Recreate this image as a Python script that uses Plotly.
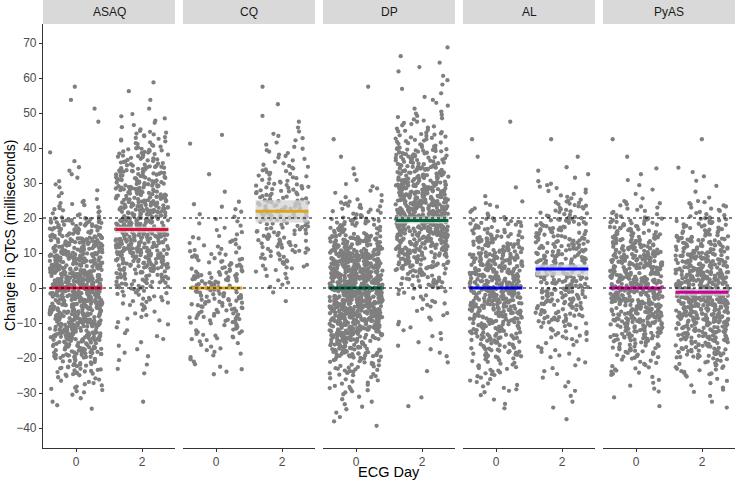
import math
import plotly.graph_objects as go

# ---------------- data ----------------
drugs = ["ASAQ", "CQ", "DP", "AL", "PyAS"]
days = [0, 2]
tick_vals_y = [-40, -30, -20, -10, 0, 10, 20, 30, 40, 50, 60, 70]

# lower edge of each 5-ms bin of "Change in QTcS"
bin_lo = [-40, -35, -30, -25, -20, -15, -10, -5, 0, 5, 10, 15, 20, 25, 30, 35, 40, 45, 50, 55, 60, 65]

# number of patients in each bin, per drug and ECG day
asaq_day0 = [0, 5, 15, 33, 62, 88, 100, 112, 112, 100, 85, 55, 17, 6, 5, 2, 0, 1, 2, 1, 0, 0]
asaq_day2 = [0, 1, 0, 4, 5, 6, 10, 22, 45, 68, 80, 80, 75, 62, 50, 33, 20, 8, 2, 2, 0, 0]
cq_day0 = [0, 0, 0, 7, 10, 20, 30, 35, 35, 25, 15, 8, 7, 1, 1, 0, 2, 0, 0, 0, 0, 0]
cq_day2 = [0, 0, 0, 0, 0, 0, 0, 2, 8, 20, 28, 30, 35, 30, 20, 12, 8, 3, 1, 1, 0, 0]
dp_day0 = [4, 7, 16, 30, 62, 95, 130, 150, 150, 130, 85, 40, 22, 8, 3, 1, 1, 0, 0, 1, 0, 0]
dp_day2 = [0, 2, 0, 2, 5, 6, 8, 13, 33, 58, 85, 102, 108, 92, 68, 50, 27, 15, 6, 4, 4, 2]
al_day0 = [0, 4, 12, 20, 35, 50, 70, 80, 80, 70, 50, 30, 10, 2, 0, 1, 1, 1, 0, 0, 0, 0]
al_day2 = [1, 3, 4, 6, 10, 20, 35, 45, 50, 50, 45, 35, 25, 12, 5, 1, 1, 0, 0, 0, 0, 0]
pyas_day0 = [0, 2, 6, 16, 33, 56, 78, 88, 88, 78, 60, 38, 16, 4, 3, 1, 1, 0, 0, 0, 0, 0]
pyas_day2 = [0, 3, 8, 22, 44, 66, 88, 98, 92, 76, 54, 32, 16, 3, 4, 0, 1, 0, 0, 0, 0, 0]

# summary: median and its confidence band, per drug
median_day0 = [0, 0, 0, 0, 0]
median_day2 = [16.7, 21.9, 19.3, 5.4, -1.2]
ci_lo_day2 = [15.8, 18.7, 18.4, 3.5, -2.2]
ci_hi_day2 = [17.6, 25.1, 20.4, 6.7, -0.3]
ref_lines = [0, 20]

counts = {
    "ASAQ": [asaq_day0, asaq_day2],
    "CQ": [cq_day0, cq_day2],
    "DP": [dp_day0, dp_day2],
    "AL": [al_day0, al_day2],
    "PyAS": [pyas_day0, pyas_day2],
}

# ---------------- styling ----------------
line_colors = ["#DC143C", "#DAA520", "#00693E", "#0000FF", "#CC0099"]
point_color = "#7F7F7F"
font_family = "Liberation Sans, Arial, sans-serif"
W, H = 735, 485
ML, MR, MT, MB = 43, 0, 24, 37
PW = W - ML - MR
PH = H - MT - MB
panel_w = 132
gap = 8
JIT = 0.8


def hash01(n):
    # deterministic horizontal jitter (like geom_jitter), not data
    s = math.sin(n * 12.9898 + 78.233) * 43758.5453
    return s - math.floor(s)


def expand(seed, day, cnts):
    xs, ys = [], []
    g = 0
    for lo, c in zip(bin_lo, cnts):
        for k in range(c):
            xs.append(day + JIT * (2 * hash01(seed * 10007 + g) - 1))
            ys.append(lo + 5 * (k + 0.5) / c)
            g += 1
    return xs, ys


fig = go.Figure()
shapes = []
annotations = []
layout_axes = {}

for i, drug in enumerate(drugs):
    xname = "x" if i == 0 else f"x{i + 1}"
    xkey = "xaxis" if i == 0 else f"xaxis{i + 1}"
    d0 = (i * (panel_w + gap)) / PW
    d1 = (i * (panel_w + gap) + panel_w) / PW
    layout_axes[xkey] = dict(
        domain=[d0, d1], range=[-1, 3], anchor="y",
        tickvals=days, ticktext=[str(d) for d in days],
        showline=True, linecolor="#333333", linewidth=1.1,
        ticks="outside", ticklen=3, tickcolor="#333333",
        showgrid=False, zeroline=False,
        tickfont=dict(size=12, color="#4D4D4D", family=font_family),
        fixedrange=True,
    )
    for j, day in enumerate(days):
        xs, ys = expand(i * 2 + j + 1, day, counts[drug][j])
        fig.add_trace(go.Scatter(
            x=xs, y=ys, xaxis=xname, yaxis="y", mode="markers",
            marker=dict(size=4.3, color=point_color, line=dict(width=0)),
            showlegend=False, hoverinfo="skip",
        ))
    # confidence band (day 2)
    shapes.append(dict(type="rect", xref=xname, yref="y",
                       x0=days[1] - JIT, x1=days[1] + JIT,
                       y0=ci_lo_day2[i], y1=ci_hi_day2[i],
                       fillcolor="rgba(211,211,211,0.75)", line=dict(width=0), layer="above"))
    # medians
    for day, med in zip(days, [median_day0[i], median_day2[i]]):
        shapes.append(dict(type="line", xref=xname, yref="y",
                           x0=day - JIT, x1=day + JIT, y0=med, y1=med,
                           line=dict(color=line_colors[i], width=3), layer="above"))
    # dotted reference lines
    for r in ref_lines:
        shapes.append(dict(type="line", xref=f"{xname} domain", yref="y",
                           x0=0, x1=1, y0=r, y1=r,
                           line=dict(color="black", width=1, dash="dot"), layer="above"))
    # strip
    shapes.append(dict(type="rect", xref=f"{xname} domain", yref="paper",
                       x0=0, x1=1, y0=1, y1=1 + MT / PH,
                       fillcolor="#D9D9D9", line=dict(width=0), layer="above"))
    annotations.append(dict(text=drug, xref=f"{xname} domain", yref="paper",
                            x=0.5, y=1 + (MT / 2) / PH, showarrow=False,
                            xanchor="center", yanchor="middle",
                            font=dict(size=12, color="#1A1A1A", family=font_family)))

annotations.append(dict(text="ECG Day", xref="paper", yref="paper",
                        x=(389 - ML) / PW, y=-(472 - (MT + PH)) / PH,
                        showarrow=False, xanchor="center", yanchor="middle",
                        font=dict(size=14.5, color="black", family=font_family)))
annotations.append(dict(text="Change in QTcS (milliseconds)", xref="paper", yref="paper",
                        x=-(ML - 10) / PW, y=(PH - (236 - MT)) / PH, textangle=-90,
                        showarrow=False, xanchor="center", yanchor="middle",
                        font=dict(size=14, color="black", family=font_family)))

top_val = (288 - MT) / 3.5
bot_val = -(MT + PH - 288) / 3.5

fig.update_layout(
    width=W, height=H,
    margin=dict(l=ML, r=MR, t=MT, b=MB),
    paper_bgcolor="white", plot_bgcolor="white",
    showlegend=False,
    shapes=shapes, annotations=annotations,
    yaxis=dict(range=[bot_val, top_val], tickvals=tick_vals_y,
               showline=True, linecolor="#333333", linewidth=1.1,
               ticks="outside", ticklen=3, tickcolor="#333333",
               showgrid=False, zeroline=False, anchor="x",
               tickfont=dict(size=12, color="#4D4D4D", family=font_family),
               fixedrange=True),
    **layout_axes,
)

fig.write_html("out.html", config={"displayModeBar": False},
               post_script="document.body.style.margin='0';document.body.style.overflow='hidden';")
